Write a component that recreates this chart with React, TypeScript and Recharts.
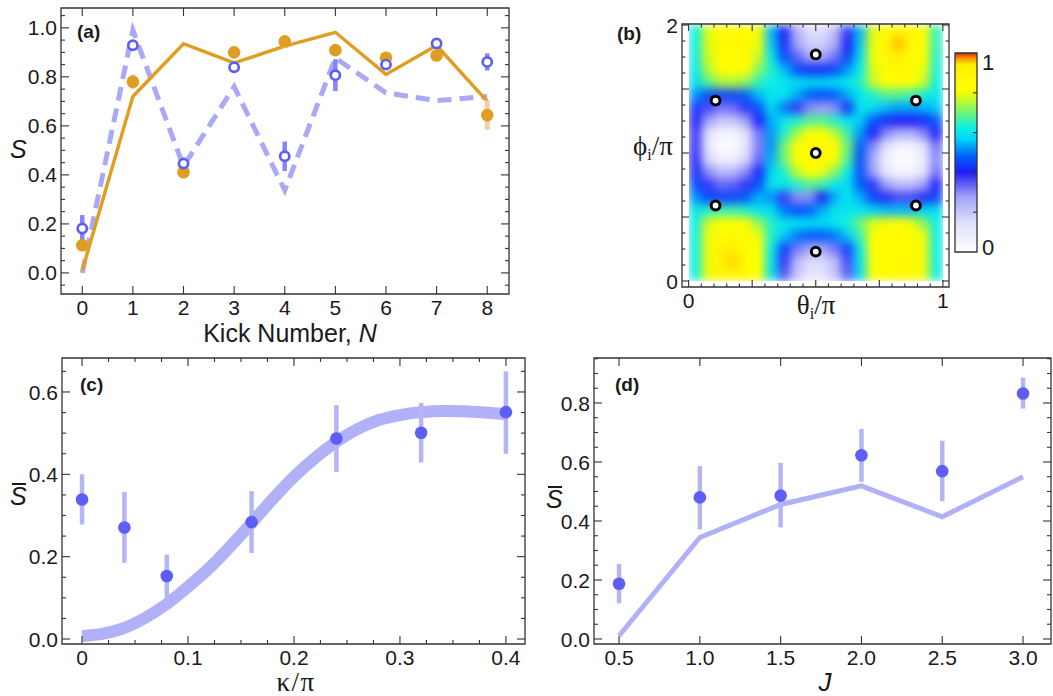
import React from 'react';
import { ComposedChart, Line, Scatter, XAxis, YAxis, ErrorBar, ReferenceArea } from 'recharts';

// ---------- (a) S versus kick number ----------
const kickN = [0, 1, 2, 3, 4, 5, 6, 7, 8];
const orangeTheory = [0.01, 0.72, 0.935, 0.857, 0.925, 0.982, 0.81, 0.928, 0.7];
const orangeData = [0.113, 0.78, 0.411, 0.9, 0.944, 0.909, 0.878, 0.887, 0.644];
const orangeErr = [0.02, 0.03, 0.018, 0.018, 0.027, 0.02, 0.018, 0.02, 0.06];
const blueTheory = [0.0, 0.99, 0.435, 0.76, 0.337, 0.877, 0.735, 0.703, 0.72];
const blueData = [0.181, 0.929, 0.446, 0.839, 0.476, 0.807, 0.85, 0.936, 0.861];
const blueErr = [0.055, 0.012, 0.025, 0.02, 0.06, 0.065, 0.02, 0.012, 0.035];

// ---------- (b) map over initial state ----------
const markTheta = [0.5, 0.106, 0.894, 0.5, 0.106, 0.894, 0.5];
const markPhi = [1.77, 1.41, 1.41, 1.0, 0.59, 0.59, 0.23];
// rows from phi = 2 (top) down to phi = 0, columns theta 0 -> 1 (20 x 20 cells)
const fieldRows = [
  [0.62, 0.78, 0.86, 0.87, 0.86, 0.8, 0.55, 0.4, 0.25, 0.15, 0.15, 0.22, 0.38, 0.55, 0.78, 0.86, 0.93, 0.87, 0.84, 0.65],
  [0.62, 0.78, 0.86, 0.87, 0.86, 0.8, 0.56, 0.42, 0.27, 0.18, 0.18, 0.25, 0.4, 0.56, 0.8, 0.86, 0.96, 0.88, 0.84, 0.65],
  [0.62, 0.77, 0.86, 0.86, 0.85, 0.77, 0.6, 0.46, 0.34, 0.27, 0.27, 0.32, 0.44, 0.58, 0.8, 0.86, 0.92, 0.87, 0.83, 0.64],
  [0.6, 0.75, 0.84, 0.85, 0.82, 0.72, 0.64, 0.55, 0.46, 0.42, 0.42, 0.45, 0.52, 0.62, 0.78, 0.86, 0.87, 0.86, 0.8, 0.63],
  [0.58, 0.68, 0.74, 0.75, 0.72, 0.65, 0.62, 0.6, 0.58, 0.57, 0.57, 0.58, 0.6, 0.64, 0.76, 0.83, 0.85, 0.84, 0.77, 0.62],
  [0.52, 0.46, 0.44, 0.45, 0.48, 0.55, 0.6, 0.6, 0.54, 0.48, 0.46, 0.48, 0.54, 0.6, 0.64, 0.68, 0.68, 0.66, 0.63, 0.6],
  [0.44, 0.36, 0.32, 0.33, 0.38, 0.47, 0.58, 0.5, 0.38, 0.3, 0.28, 0.3, 0.42, 0.6, 0.58, 0.55, 0.53, 0.53, 0.54, 0.56],
  [0.4, 0.28, 0.2, 0.2, 0.28, 0.4, 0.54, 0.6, 0.64, 0.68, 0.68, 0.64, 0.6, 0.56, 0.47, 0.42, 0.4, 0.4, 0.42, 0.47],
  [0.38, 0.14, 0.05, 0.05, 0.13, 0.32, 0.52, 0.64, 0.74, 0.82, 0.82, 0.76, 0.66, 0.52, 0.4, 0.3, 0.24, 0.24, 0.3, 0.4],
  [0.38, 0.12, 0.02, 0.02, 0.12, 0.31, 0.52, 0.7, 0.84, 0.87, 0.87, 0.84, 0.7, 0.48, 0.3, 0.13, 0.05, 0.05, 0.13, 0.32],
  [0.39, 0.16, 0.07, 0.07, 0.16, 0.33, 0.54, 0.7, 0.84, 0.87, 0.87, 0.84, 0.68, 0.46, 0.26, 0.08, 0.02, 0.02, 0.09, 0.3],
  [0.42, 0.3, 0.22, 0.23, 0.3, 0.41, 0.57, 0.64, 0.76, 0.82, 0.8, 0.72, 0.62, 0.46, 0.28, 0.11, 0.05, 0.05, 0.12, 0.32],
  [0.46, 0.38, 0.33, 0.34, 0.38, 0.46, 0.6, 0.6, 0.64, 0.68, 0.66, 0.6, 0.58, 0.48, 0.38, 0.28, 0.22, 0.22, 0.28, 0.4],
  [0.52, 0.46, 0.44, 0.45, 0.48, 0.54, 0.52, 0.38, 0.3, 0.3, 0.4, 0.54, 0.6, 0.54, 0.45, 0.39, 0.36, 0.36, 0.39, 0.45],
  [0.6, 0.64, 0.66, 0.66, 0.64, 0.6, 0.58, 0.5, 0.46, 0.48, 0.54, 0.6, 0.6, 0.6, 0.57, 0.55, 0.55, 0.55, 0.57, 0.58],
  [0.62, 0.77, 0.83, 0.84, 0.81, 0.73, 0.64, 0.6, 0.59, 0.58, 0.58, 0.6, 0.63, 0.7, 0.78, 0.81, 0.82, 0.8, 0.72, 0.62],
  [0.62, 0.8, 0.86, 0.87, 0.86, 0.8, 0.64, 0.56, 0.5, 0.47, 0.47, 0.5, 0.56, 0.66, 0.82, 0.86, 0.86, 0.85, 0.8, 0.62],
  [0.62, 0.8, 0.92, 0.93, 0.86, 0.82, 0.62, 0.44, 0.32, 0.27, 0.27, 0.32, 0.44, 0.62, 0.82, 0.86, 0.86, 0.86, 0.8, 0.62],
  [0.62, 0.8, 0.94, 0.95, 0.86, 0.82, 0.6, 0.38, 0.23, 0.16, 0.16, 0.22, 0.36, 0.6, 0.82, 0.86, 0.86, 0.86, 0.8, 0.62],
  [0.62, 0.8, 0.9, 0.92, 0.86, 0.82, 0.6, 0.35, 0.2, 0.12, 0.12, 0.2, 0.34, 0.58, 0.82, 0.86, 0.86, 0.86, 0.8, 0.62],
];
const cbarTicks = [0, 0.2, 0.4, 0.6, 0.8, 1];

// ---------- (c) mean S versus kappa ----------
const kappaGrid = [0, 0.02, 0.04, 0.06, 0.08, 0.1, 0.12, 0.14, 0.16, 0.18, 0.2, 0.22, 0.24, 0.26, 0.28, 0.3, 0.32, 0.34, 0.36, 0.38, 0.4];
const kappaTheory = [0.007, 0.013, 0.027, 0.052, 0.085, 0.127, 0.172, 0.225, 0.282, 0.34, 0.394, 0.44, 0.479, 0.51, 0.532, 0.544, 0.551, 0.554, 0.553, 0.55, 0.546];
const kappaPts = [0, 0.04, 0.08, 0.16, 0.24, 0.32, 0.4];
const kappaMean = [0.339, 0.271, 0.153, 0.284, 0.487, 0.501, 0.551];
const kappaLo = [0.278, 0.185, 0.1, 0.209, 0.406, 0.429, 0.45];
const kappaHi = [0.4, 0.357, 0.205, 0.359, 0.568, 0.573, 0.65];

// ---------- (d) mean S versus J ----------
const jVals = [0.5, 1, 1.5, 2, 2.5, 3];
const jTheory = [0.011, 0.344, 0.456, 0.519, 0.414, 0.55];
const jMean = [0.187, 0.48, 0.486, 0.623, 0.569, 0.832];
const jLo = [0.121, 0.371, 0.378, 0.533, 0.467, 0.781];
const jHi = [0.254, 0.586, 0.597, 0.712, 0.672, 0.886];

// ---------- styling ----------
const FRAME = '#333';
const TXT = '#1a1a1a';
const SANS = '"Liberation Sans", Arial, sans-serif';
const SERIF = '"Liberation Serif", "Times New Roman", serif';
const ORANGE = '#DF9D22';
const ORANGE_ERR = '#F3CFA5';
const BLUE = '#5E5EF6';
const BLUE_ERR_A = '#8585F4';
const BLUE_LINE = '#A9A9F7';
const BAND = '#B1B1F7';
const ERR_CD = '#B5B5F6';
const TICK_FONT = 21;

// white -> lavender -> blue -> cyan -> green -> yellow -> red
const CMAP: number[][] = [
  [0, 255, 255, 255],
  [0.15, 222, 222, 252],
  [0.28, 160, 160, 248],
  [0.4, 30, 30, 245],
  [0.48, 0, 95, 250],
  [0.57, 0, 215, 245],
  [0.62, 10, 238, 232],
  [0.7, 110, 245, 120],
  [0.78, 220, 250, 20],
  [0.82, 255, 255, 0],
  [0.94, 255, 240, 0],
  [0.97, 255, 160, 0],
  [1, 220, 40, 0],
];
const cmap = (v: number) => {
  for (let i = 1; i < CMAP.length; i++) {
    if (v <= CMAP[i][0]) {
      const a = CMAP[i - 1];
      const b = CMAP[i];
      const t = (v - a[0]) / (b[0] - a[0]);
      const c = [1, 2, 3].map((k) => Math.round(a[k] + (b[k] - a[k]) * t));
      return `rgb(${c[0]},${c[1]},${c[2]})`;
    }
  }
  return 'rgb(220,40,0)';
};

const hit = (v: number, list: number[]) => list.some((m) => Math.abs(m - v) < 1e-6);
const steps = (a: number, b: number, s: number) => {
  const out: number[] = [];
  for (let i = 0; a + i * s <= b + 1e-9; i++) out.push(+(a + i * s).toFixed(6));
  return out;
};

type Ax = {
  majors: number[];
  labels: number[];
  fmt: (v: number) => string;
  far: number;
  long?: number;
  short?: number;
  gap?: number;
};

function XTick(props: any) {
  const { x, y, payload, ax } = props;
  const v = payload.value;
  const len = hit(v, ax.majors) ? ax.long ?? 8 : ax.short ?? 4;
  return (
    <g>
      <line x1={x} x2={x} y1={y} y2={y - len} stroke={FRAME} strokeWidth={1.1} />
      <line x1={x} x2={x} y1={ax.far} y2={ax.far + len} stroke={FRAME} strokeWidth={1.1} />
      {hit(v, ax.labels) && (
        <text x={x} y={y + (ax.gap ?? 5)} dy="0.75em" textAnchor="middle" fontSize={TICK_FONT} fontFamily={SANS} fill={TXT}>
          {ax.fmt(v)}
        </text>
      )}
    </g>
  );
}

function YTick(props: any) {
  const { x, y, payload, ax } = props;
  const v = payload.value;
  const len = hit(v, ax.majors) ? ax.long ?? 8 : ax.short ?? 4;
  return (
    <g>
      <line x1={x} x2={x + len} y1={y} y2={y} stroke={FRAME} strokeWidth={1.1} />
      <line x1={ax.far} x2={ax.far - len} y1={y} y2={y} stroke={FRAME} strokeWidth={1.1} />
      {hit(v, ax.labels) && (
        <text x={x - (ax.gap ?? 4)} y={y} dy="0.36em" textAnchor="end" fontSize={TICK_FONT} fontFamily={SANS} fill={TXT}>
          {ax.fmt(v)}
        </text>
      )}
    </g>
  );
}

const Txt = ({ left, top, size, children, style }: any) => (
  <div style={{ position: 'absolute', left, top, fontSize: size, lineHeight: 1, whiteSpace: 'nowrap', color: TXT, fontFamily: SANS, ...style }}>
    {children}
  </div>
);

const Centered = ({ cx, top, size, children, style }: any) => (
  <div style={{ position: 'absolute', left: cx - 150, width: 300, textAlign: 'center', top, fontSize: size, lineHeight: 1, whiteSpace: 'nowrap', color: TXT, fontFamily: SANS, ...style }}>
    {children}
  </div>
);

// S with an overbar
const SBar = ({ left, top }: any) => (
  <>
    <Txt left={left} top={top} size={25} style={{ fontStyle: 'italic' }}>S</Txt>
    <div style={{ position: 'absolute', left: left + 2, top: top - 1, width: 14, height: 1.6, background: TXT }} />
  </>
);

const dotShape = (fill: string, r: number) => (p: any) => <circle cx={p.cx} cy={p.cy} r={r} fill={fill} />;
const ringShape = (p: any) => <circle cx={p.cx} cy={p.cy} r={4.6} fill="#fff" stroke={BLUE} strokeWidth={2.7} />;

function PanelA() {
  const W = 520, H = 330, top = 8, right = 11, yw = 61, xh = 36;
  const xd = [-0.42, 8.43];
  const yd = [-0.086, 1.081];
  const xAx: Ax = { majors: kickN, labels: kickN, fmt: (v) => String(v), far: top };
  const yMaj = steps(0, 1, 0.2);
  const yAx: Ax = { majors: yMaj, labels: yMaj, fmt: (v) => v.toFixed(1), far: W - right };
  const oLine = kickN.map((n, i) => ({ x: n, y: orangeTheory[i] }));
  const bLine = kickN.map((n, i) => ({ x: n, y: blueTheory[i] }));
  const oPts = kickN.map((n, i) => ({ x: n, y: orangeData[i], e: orangeErr[i] }));
  const bPts = kickN.map((n, i) => ({ x: n, y: blueData[i], e: blueErr[i] }));
  return (
    <div style={{ position: 'absolute', left: 0, top: 0 }}>
      <ComposedChart width={W} height={H} margin={{ top, right, bottom: 0, left: 0 }}>
        <XAxis type="number" dataKey="x" domain={xd} allowDataOverflow ticks={kickN} interval={0} tickSize={0} tickMargin={0}
          axisLine={false} tickLine={false} height={xh} tick={(p: any) => <XTick {...p} ax={xAx} />} />
        <YAxis type="number" domain={yd} allowDataOverflow ticks={steps(-0.05, 1.05, 0.05)} interval={0} tickSize={0} tickMargin={0}
          axisLine={false} tickLine={false} width={yw} tick={(p: any) => <YTick {...p} ax={yAx} />} />
        <ReferenceArea x1={xd[0]} x2={xd[1]} y1={yd[0]} y2={yd[1]} fill="none" stroke={FRAME} strokeWidth={1.3} ifOverflow="visible" />
        <Line data={bLine} dataKey="y" type="linear" stroke={BLUE_LINE} strokeWidth={5} strokeDasharray="14 8" strokeLinejoin="miter"
          dot={false} activeDot={false} isAnimationActive={false} />
        <Line data={oLine} dataKey="y" type="linear" stroke={ORANGE} strokeWidth={3.4} dot={false} activeDot={false} isAnimationActive={false} />
        <Scatter data={oPts} dataKey="y" shape={dotShape(ORANGE, 6.3)} isAnimationActive={false}>
          <ErrorBar dataKey="e" direction="y" width={0} stroke={ORANGE_ERR} strokeWidth={5} />
        </Scatter>
        <Scatter data={bPts} dataKey="y" shape={ringShape} isAnimationActive={false}>
          <ErrorBar dataKey="e" direction="y" width={0} stroke={BLUE_ERR_A} strokeWidth={4.5} />
        </Scatter>
      </ComposedChart>
      <Txt left={77} top={22} size={19} style={{ fontWeight: 'bold' }}>(a)</Txt>
      <Txt left={10} top={137} size={25} style={{ fontStyle: 'italic' }}>S</Txt>
      <Centered cx={290} top={321} size={25}>
        Kick Number, <i>N</i>
      </Centered>
    </div>
  );
}

function DensityLayer() {
  const nRow = fieldRows.length;
  const nCol = fieldRows[0].length;
  const cells: React.ReactNode[] = [];
  fieldRows.forEach((row, i) =>
    row.forEach((v, j) => {
      cells.push(
        <ReferenceArea key={`${i}-${j}`} x1={j / nCol} x2={(j + 1) / nCol} y1={2 - (2 * (i + 1)) / nRow} y2={2 - (2 * i) / nRow}
          fill={cmap(v)} fillOpacity={1} stroke={cmap(v)} strokeWidth={0.6} ifOverflow="visible" />
      );
    })
  );
  return (
    <div style={{ position: 'absolute', left: 689, top: 25, width: 254, height: 256, overflow: 'hidden' }}>
      <svg width={0} height={0} style={{ position: 'absolute' }}>
        <defs>
          <filter id="smoothField" x="0" y="0" width="1" height="1" colorInterpolationFilters="sRGB">
            <feGaussianBlur stdDeviation="5" edgeMode="duplicate" />
          </filter>
        </defs>
      </svg>
      <div style={{ width: 254, height: 256, filter: 'url(#smoothField)' }}>
        <ComposedChart width={254} height={256} margin={{ top: 0, right: 0, bottom: 0, left: 0 }}>
          <XAxis type="number" dataKey="x" domain={[0, 1]} allowDataOverflow hide />
          <YAxis type="number" domain={[0, 2]} allowDataOverflow hide />
          {cells}
        </ComposedChart>
      </div>
    </div>
  );
}

function ColorBar() {
  const W = 70, H = 230, top = 13, left = 15, yw = 33;
  const CTick = (p: any) => {
    const { x, y, payload } = p;
    const v = payload.value;
    return (
      <g>
        {v > 0 && v < 1 && <line x1={x} x2={x - 4} y1={y} y2={y} stroke={FRAME} strokeWidth={1.1} />}
        {(v === 0 || v === 1) && (
          <text x={x + 5} y={y + (v === 1 ? 9 : -5)} dy="0.36em" fontSize={22} fontFamily={SANS} fill={TXT}>
            {String(v)}
          </text>
        )}
      </g>
    );
  };
  return (
    <div style={{ position: 'absolute', left: 940, top: 40 }}>
      <svg width={0} height={0} style={{ position: 'absolute' }}>
        <defs>
          <linearGradient id="cbarGrad" x1="0" y1="1" x2="0" y2="0">
            {CMAP.map((s) => (
              <stop key={s[0]} offset={s[0]} stopColor={`rgb(${s[1]},${s[2]},${s[3]})`} />
            ))}
          </linearGradient>
        </defs>
      </svg>
      <ComposedChart width={W} height={H} margin={{ top, right: 0, bottom: 18, left }}>
        <XAxis type="number" dataKey="x" domain={[0, 1]} allowDataOverflow hide />
        <YAxis yAxisId="c" orientation="right" type="number" domain={[0, 1]} allowDataOverflow ticks={cbarTicks} interval={0}
          tickSize={0} tickMargin={0} axisLine={false} tickLine={false} width={yw} tick={CTick} />
        <ReferenceArea yAxisId="c" x1={0} x2={1} y1={0} y2={1} fill="url(#cbarGrad)" fillOpacity={1} stroke={FRAME} strokeWidth={1.3} ifOverflow="visible" />
      </ComposedChart>
    </div>
  );
}

function PanelB() {
  const W = 320, H = 320, top = 24, right = 11, yw = 42, xh = 33;
  const xd = [-0.026, 1.024];
  const yd = [-0.047, 2.008];
  const xAx: Ax = { majors: [0, 0.25, 0.5, 0.75, 1], labels: [0, 1], fmt: (v) => String(v), far: top, long: 7, short: 3.5 };
  const yAx: Ax = { majors: [0, 0.5, 1, 1.5, 2], labels: [0, 2], fmt: (v) => String(v), far: W - right, long: 7, short: 3.5 };
  const marks = markTheta.map((t, i) => ({ x: t, y: markPhi[i] }));
  return (
    <>
      <DensityLayer />
      <div style={{ position: 'absolute', left: 640, top: 0 }}>
        <ComposedChart width={W} height={H} margin={{ top, right, bottom: 0, left: 0 }}>
          <XAxis type="number" dataKey="x" domain={xd} allowDataOverflow ticks={steps(0, 1, 0.05)} interval={0} tickSize={0} tickMargin={0}
            axisLine={false} tickLine={false} height={xh} tick={(p: any) => <XTick {...p} ax={xAx} />} />
          <YAxis type="number" domain={yd} allowDataOverflow ticks={steps(0, 2, 0.125)} interval={0} tickSize={0} tickMargin={0}
            axisLine={false} tickLine={false} width={yw} tick={(p: any) => <YTick {...p} ax={yAx} />} />
          <ReferenceArea x1={xd[0]} x2={xd[1]} y1={yd[0]} y2={yd[1]} fill="none" stroke={FRAME} strokeWidth={1.3} ifOverflow="visible" />
          <Scatter data={marks} dataKey="y" isAnimationActive={false}
            shape={(p: any) => <circle cx={p.cx} cy={p.cy} r={4.4} fill="#fff" stroke="#000" strokeWidth={3} />} />
        </ComposedChart>
      </div>
      <ColorBar />
      <Txt left={617} top={24} size={19} style={{ fontWeight: 'bold' }}>(b)</Txt>
      <Txt left={633} top={133} size={27} style={{ fontFamily: SERIF }}>
        {'\u03D5'}<sub style={{ fontSize: 16, verticalAlign: -5 }}>i</sub>/π
      </Txt>
      <Centered cx={816} top={292} size={27} style={{ fontFamily: SERIF }}>
        θ<sub style={{ fontSize: 16, verticalAlign: -5 }}>i</sub>/π
      </Centered>
    </>
  );
}

function PanelC() {
  const W = 536, H = 330, top = 8, right = 11, yw = 62, xh = 36;
  const xd = [-0.0189, 0.418];
  const yd = [-0.0121, 0.6825];
  const xMaj = [0, 0.1, 0.2, 0.3, 0.4];
  const xAx: Ax = { majors: xMaj, labels: xMaj, fmt: (v) => (v === 0 ? '0' : v.toFixed(1)), far: top };
  const yMaj = [0, 0.2, 0.4, 0.6];
  const yAx: Ax = { majors: yMaj, labels: yMaj, fmt: (v) => v.toFixed(1), far: W - right };
  const band = kappaGrid.map((k, i) => ({ x: k, y: kappaTheory[i] }));
  const pts = kappaPts.map((k, i) => ({ x: k, y: kappaMean[i], e: [kappaMean[i] - kappaLo[i], kappaHi[i] - kappaMean[i]] }));
  return (
    <div style={{ position: 'absolute', left: 0, top: 350 }}>
      <ComposedChart width={W} height={H} margin={{ top, right, bottom: 0, left: 0 }}>
        <XAxis type="number" dataKey="x" domain={xd} allowDataOverflow ticks={steps(0, 0.4, 0.025)} interval={0} tickSize={0} tickMargin={0}
          axisLine={false} tickLine={false} height={xh} tick={(p: any) => <XTick {...p} ax={xAx} />} />
        <YAxis type="number" domain={yd} allowDataOverflow ticks={steps(0, 0.65, 0.05)} interval={0} tickSize={0} tickMargin={0}
          axisLine={false} tickLine={false} width={yw} tick={(p: any) => <YTick {...p} ax={yAx} />} />
        <ReferenceArea x1={xd[0]} x2={xd[1]} y1={yd[0]} y2={yd[1]} fill="none" stroke={FRAME} strokeWidth={1.3} ifOverflow="visible" />
        <Line data={band} dataKey="y" type="monotone" stroke={BAND} strokeWidth={12} strokeLinecap="butt" dot={false} activeDot={false} isAnimationActive={false} />
        <Scatter data={pts} dataKey="y" shape={dotShape(BLUE, 6.3)} isAnimationActive={false}>
          <ErrorBar dataKey="e" direction="y" width={0} stroke={ERR_CD} strokeWidth={4.5} />
        </Scatter>
      </ComposedChart>
      <Txt left={80} top={25} size={19} style={{ fontWeight: 'bold' }}>(c)</Txt>
      <SBar left={10} top={134} />
      <Centered cx={296} top={319} size={27} style={{ fontFamily: SERIF, letterSpacing: 1.5 }}>
        κ/π
      </Centered>
    </div>
  );
}

function PanelD() {
  const W = 521, H = 330, top = 8, right = 2, yw = 62, xh = 36;
  const xd = [0.345, 3.173];
  const yd = [-0.017, 0.9525];
  const xAx: Ax = { majors: jVals, labels: jVals, fmt: (v) => v.toFixed(1), far: top };
  const yMaj = [0, 0.2, 0.4, 0.6, 0.8];
  const yAx: Ax = { majors: yMaj, labels: yMaj, fmt: (v) => v.toFixed(1), far: W - right };
  const line = jVals.map((j, i) => ({ x: j, y: jTheory[i] }));
  const pts = jVals.map((j, i) => ({ x: j, y: jMean[i], e: [jMean[i] - jLo[i], jHi[i] - jMean[i]] }));
  return (
    <div style={{ position: 'absolute', left: 532, top: 350 }}>
      <ComposedChart width={W} height={H} margin={{ top, right, bottom: 0, left: 0 }}>
        <XAxis type="number" dataKey="x" domain={xd} allowDataOverflow ticks={jVals} interval={0} tickSize={0} tickMargin={0}
          axisLine={false} tickLine={false} height={xh} tick={(p: any) => <XTick {...p} ax={xAx} />} />
        <YAxis type="number" domain={yd} allowDataOverflow ticks={steps(0, 0.95, 0.05)} interval={0} tickSize={0} tickMargin={0}
          axisLine={false} tickLine={false} width={yw} tick={(p: any) => <YTick {...p} ax={yAx} />} />
        <ReferenceArea x1={xd[0]} x2={xd[1]} y1={yd[0]} y2={yd[1]} fill="none" stroke={FRAME} strokeWidth={1.3} ifOverflow="visible" />
        <Line data={line} dataKey="y" type="linear" stroke={BAND} strokeWidth={5} dot={false} activeDot={false} isAnimationActive={false} />
        <Scatter data={pts} dataKey="y" shape={dotShape(BLUE, 6.3)} isAnimationActive={false}>
          <ErrorBar dataKey="e" direction="y" width={0} stroke={ERR_CD} strokeWidth={4.5} />
        </Scatter>
      </ComposedChart>
      <Txt left={83} top={25} size={19} style={{ fontWeight: 'bold' }}>(d)</Txt>
      <SBar left={14} top={137} />
      <Centered cx={293} top={319} size={26} style={{ fontStyle: 'italic' }}>
        J
      </Centered>
    </div>
  );
}

export default function App() {
  return (
    <div style={{ position: 'absolute', left: 0, top: 0, width: 1053, height: 696, background: '#fff', overflow: 'hidden' }}>
      <PanelA />
      <PanelB />
      <PanelC />
      <PanelD />
    </div>
  );
}
